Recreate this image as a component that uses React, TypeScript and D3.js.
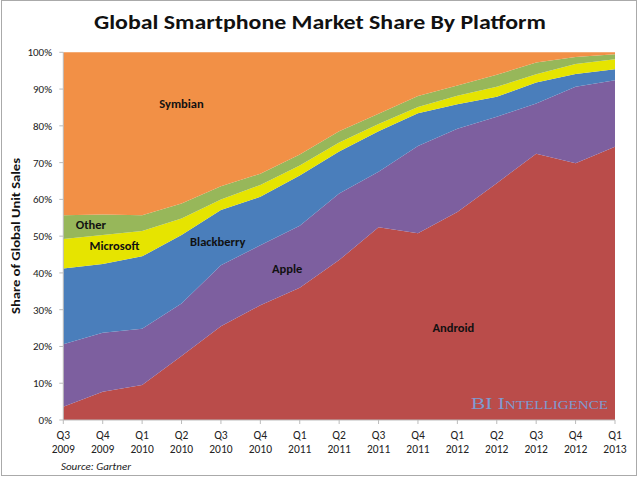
import React from "react";
import * as d3 from "d3";

const quarters = ["Q3", "Q4", "Q1", "Q2", "Q3", "Q4", "Q1", "Q2", "Q3", "Q4", "Q1", "Q2", "Q3", "Q4", "Q1"];
const years = ["2009", "2009", "2010", "2010", "2010", "2010", "2011", "2011", "2011", "2011", "2012", "2012", "2012", "2012", "2013"];

const android = [3.6, 7.7, 9.5, 17.4, 25.5, 31.2, 36.0, 43.5, 52.4, 50.8, 56.6, 64.4, 72.4, 69.8, 74.3];
const apple = [17.0, 16.0, 15.3, 14.3, 16.6, 16.3, 16.8, 18.1, 15.1, 23.7, 22.6, 18.1, 13.7, 20.8, 18.1];
const blackberry = [20.6, 18.7, 19.7, 18.6, 15.0, 13.2, 13.7, 11.4, 11.0, 8.9, 6.7, 5.4, 5.7, 3.5, 3.0];
const microsoft = [8.0, 7.9, 6.9, 4.5, 2.9, 3.2, 2.7, 2.5, 2.0, 1.7, 2.3, 2.7, 2.2, 2.7, 2.7];
const other = [6.5, 5.6, 4.3, 4.1, 3.6, 3.1, 3.0, 3.0, 2.8, 3.0, 2.8, 3.3, 3.2, 1.9, 1.4];
const symbian = [44.3, 44.1, 44.3, 41.1, 36.4, 33.0, 27.8, 21.5, 16.7, 11.9, 9.0, 6.1, 2.8, 1.3, 0.5];

const keys = ["Android", "Apple", "Blackberry", "Microsoft", "Other", "Symbian"];
const seriesValues: Record<string, number[]> = {
  Android: android,
  Apple: apple,
  Blackberry: blackberry,
  Microsoft: microsoft,
  Other: other,
  Symbian: symbian,
};
const colors: Record<string, string> = {
  Android: "#BA4C4A",
  Apple: "#7D5F9F",
  Blackberry: "#4A7EBB",
  Microsoft: "#E6E400",
  Other: "#97B75A",
  Symbian: "#F29046",
};
const yTicks = [0, 10, 20, 30, 40, 50, 60, 70, 80, 90, 100];

const labels = [
  { key: "Symbian", x: 3.0, y: 86 },
  { key: "Other", x: 0.7, y: 53 },
  { key: "Microsoft", x: 1.3, y: 47.3 },
  { key: "Blackberry", x: 3.92, y: 48.4 },
  { key: "Apple", x: 5.68, y: 41 },
  { key: "Android", x: 9.9, y: 25 },
];

export default function App() {
  const W = 640;
  const H = 477;
  const left = 63.3;
  const right = 615;
  const top = 52.3;
  const bottom = 420;

  const x = d3.scaleLinear().domain([0, quarters.length - 1]).range([left, right]);
  const y = d3.scaleLinear().domain([0, 100]).range([bottom, top]);

  const rows = quarters.map((_, i) => {
    const r: Record<string, number> = {};
    keys.forEach((k) => (r[k] = seriesValues[k][i]));
    return r;
  });
  const stacked = d3.stack<Record<string, number>>().keys(keys)(rows);
  const area = d3
    .area<[number, number]>()
    .x((_, i) => x(i))
    .y0((d) => y(d[0]))
    .y1((d) => y(Math.min(100, d[1])));

  const font = "Calibri, Carlito, 'Open Sans', 'Liberation Sans', sans-serif";

  return (
    <svg
      width={W}
      height={H}
      style={{ position: "absolute", left: 0, top: 0, background: "#fff" }}
      fontFamily={font}
    >
      <rect x={1.5} y={0.5} width={635} height={475} fill="#fff" stroke="#aaa" />
      <text x={320} y={29} textAnchor="middle" fontSize={20.5} fontWeight="bold" fill="#111" textLength={452} lengthAdjust="spacingAndGlyphs">
        Global Smartphone Market Share By Platform
      </text>

      {stacked.map((s) => (
        <path key={s.key} d={area(s as any) || ""} fill={colors[s.key]} />
      ))}

      {/* axes */}
      <line x1={left} x2={left} y1={top} y2={bottom} stroke="#bbb" />
      <line x1={left} x2={right} y1={bottom} y2={bottom} stroke="#bbb" />
      {yTicks.map((t) => (
        <g key={t}>
          <line x1={left - 4} x2={left} y1={y(t)} y2={y(t)} stroke="#bbb" />
          <text x={52} y={y(t) + 4} textAnchor="end" fontSize={11} fill="#222">
            {t}%
          </text>
        </g>
      ))}
      {quarters.map((q, i) => (
        <g key={i}>
          <line x1={x(i)} x2={x(i)} y1={bottom} y2={bottom + 4} stroke="#bbb" />
          <text x={x(i)} y={439} textAnchor="middle" fontSize={11.5} fill="#222">
            {q}
          </text>
          <text x={x(i)} y={453} textAnchor="middle" fontSize={11.5} fill="#222">
            {years[i]}
          </text>
        </g>
      ))}

      <text
        transform={`translate(20, 236) rotate(-90)`}
        textAnchor="middle"
        fontSize={12.5}
        fontWeight="bold"
        fill="#111"
        textLength={156}
        lengthAdjust="spacingAndGlyphs"
      >
        Share of Global Unit Sales
      </text>

      {labels.map((l) => (
        <text key={l.key} x={x(l.x)} y={y(l.y) + 4} textAnchor="middle" fontSize={12.5} fontWeight="bold" fill="#111">
          {l.key}
        </text>
      ))}

      <text
        x={608}
        y={409}
        textAnchor="end"
        fontSize={17}
        fontFamily="'Liberation Serif', 'DejaVu Serif', serif"
        fill="#7E9BD0"
        style={{ fontVariant: "small-caps" }}
        textLength={137}
        lengthAdjust="spacingAndGlyphs"
      >
        BI Intelligence
      </text>

      <text x={61} y={470} fontSize={11} fontStyle="italic" fill="#222">
        Source: Gartner
      </text>
    </svg>
  );
}
